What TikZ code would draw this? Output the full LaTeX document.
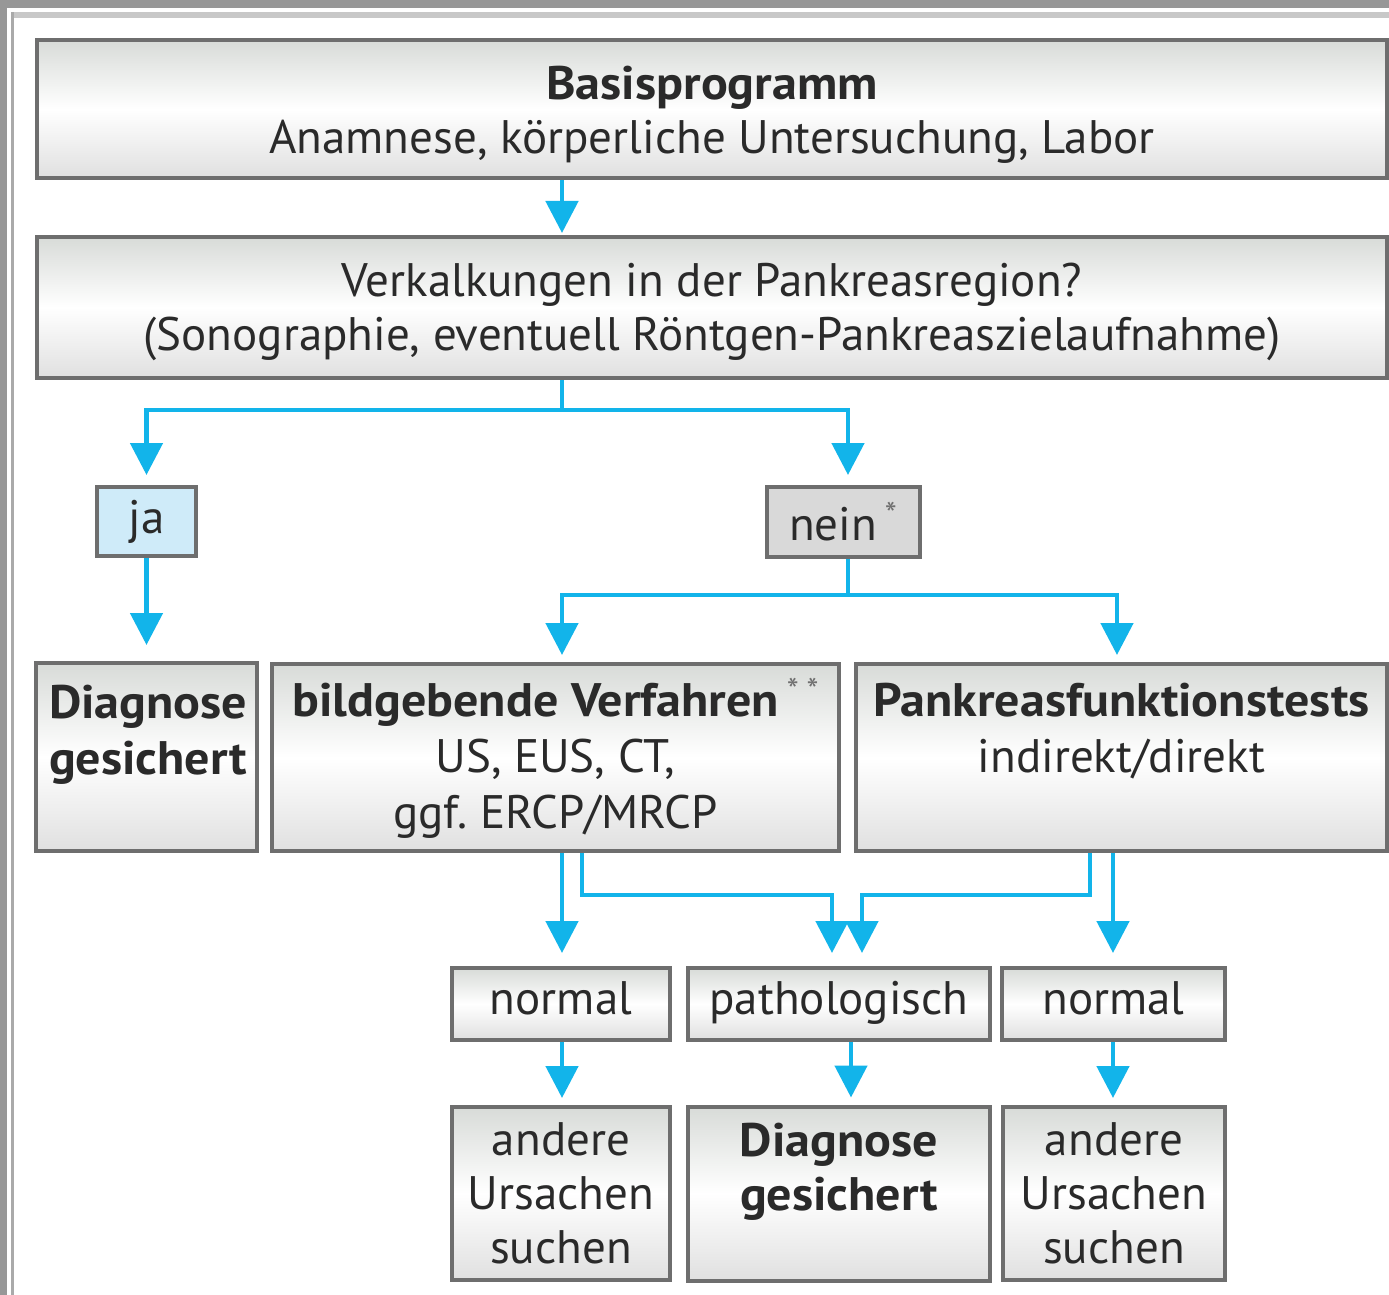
\documentclass[tikz,border=0pt]{standalone}
\usepackage{fontspec}
\setmainfont{PT Sans}[BoldFeatures={FakeStretch=1.065}]
\usetikzlibrary{arrows.meta,calc}
\definecolor{arrblue}{HTML}{12B4EA}
\definecolor{boxline}{HTML}{6E6E6E}
\definecolor{shadetop}{HTML}{D8DBD8}
\definecolor{shadebot}{HTML}{E0E0E0}
\definecolor{jafill}{HTML}{CFEBF9}
\definecolor{neinfill}{HTML}{D9D9D9}
\definecolor{txt}{HTML}{2A2A2A}
\definecolor{astcol}{HTML}{707070}
\definecolor{frameA}{HTML}{979797}
\definecolor{frameB}{HTML}{C8C8C8}
\definecolor{frameC}{HTML}{AAAAAA}
% first-line strut with extra height: moves a centred text block down by half the extra
\newcommand{\dn}[1]{\rule{0pt}{\dimexpr\ht\strutbox+#1\relax}}
\newcommand{\myast}{\raisebox{7pt}{\fontsize{17}{17}\selectfont\color{astcol}*}}
\begin{document}
\begin{tikzpicture}[x=0.5pt,y=-0.5pt,
  basebox/.style={draw=boxline, line width=2pt, inner sep=0pt, align=center, text=txt,
    font=\fontsize{23.5}{27}\selectfont},
  shadebox/.style={basebox, top color=shadetop, bottom color=shadebot, middle color=white},
  lowbox/.style={shadebox, font=\fontsize{23.5}{28}\selectfont},
  conn/.style={draw=arrblue, line width=2.4pt},
  arr/.style={conn, -{Triangle[width=16pt,length=16pt]}},
]
\useasboundingbox (0,0) rectangle (1389,1295);
\fill[white] (0,0) rectangle (1389,1295);
% frame
\fill[frameA] (0,0) rectangle (1389,8);
\fill[frameA] (0,0) rectangle (7,1295);
\fill[frameB] (11,12) rectangle (1389,18);
\fill[frameC] (11,12) rectangle (14,1295);

% column coordinates
\coordinate (xA) at (562,0);
\coordinate (xN) at (848,0);
\coordinate (xP) at (1117,0);
\coordinate (xB) at (582,0);
\coordinate (xQ) at (1090,0);
\coordinate (xL) at (832,0);
\coordinate (xR) at (862,0);
\coordinate (xD) at (851,0);
\coordinate (xM) at (1113,0);

% boxes
\node[shadebox, minimum width=675pt, minimum height=69pt] (b1) at (712,109)
  {\dn{7pt}\textbf{Basisprogramm}\\Anamnese, körperliche Untersuchung, Labor\strut};
\node[shadebox, minimum width=675pt, minimum height=70.5pt] (b2) at (712,307.5)
  {\dn{5pt}Verkalkungen in der Pankreasregion?\\(Sonographie, eventuell Röntgen-Pankreaszielaufnahme)\strut};
\node[basebox, fill=jafill, minimum width=49.5pt, minimum height=34.5pt] (ja) at (146.5,521.5) {ja};
\node[basebox, fill=neinfill, minimum width=76.5pt, minimum height=35pt] (nein) at (843,522)
  {nein\,\myast};
\node[lowbox, minimum width=110.5pt, minimum height=94pt, align=left, text width=97.5pt] (d1) at (146.5,757)
  {\dn{6pt}\textbf{Diagnose}\\\textbf{gesichert}\\\strut};
\node[lowbox, minimum width=283.5pt, minimum height=93.5pt] (bild) at (555.5,757.5)
  {\dn{4pt}\textbf{bildgebende Verfahren}\,\myast\,\myast\\US, EUS, CT,\\ggf.\ ERCP/MRCP\strut};
\node[lowbox, minimum width=265.5pt, minimum height=93.5pt] (pank) at (1121.5,757.5)
  {\dn{4pt}\textbf{Pankreasfunktionstests}\\indirekt/direkt\\\strut};
\node[shadebox, minimum width=109pt, minimum height=36pt] (n1) at (561,1004) {\strut normal};
\node[shadebox, minimum width=151pt, minimum height=36pt] (pa) at (839,1004) {\strut pathologisch};
\node[shadebox, minimum width=111.5pt, minimum height=36pt] (n2) at (1113.5,1004) {\strut normal};
\node[shadebox, minimum width=109pt, minimum height=86.5pt] (a1) at (561,1193.5)
  {\dn{5pt}andere\\Ursachen\\suchen\strut};
\node[shadebox, minimum width=151pt, minimum height=86.5pt] (d2) at (839,1193.5)
  {\dn{6pt}\textbf{Diagnose}\\\textbf{gesichert}\\\strut};
\node[shadebox, minimum width=111pt, minimum height=86.5pt] (a2) at (1114,1193.5)
  {\dn{5pt}andere\\Ursachen\\suchen\strut};

% connectors
\draw[arr, shorten >=1pt] (b1.south -| xA) -- (b2.north -| xA);
\draw[arr, shorten >=5pt] (b2.south -| xA) -- ++(0,30) -| (ja.north);
\draw[arr, shorten >=5pt] (b2.south -| xA) -- ++(0,30) -| (nein.north -| xN);
\draw[arr, shorten >=8pt] (ja.south) -- (d1.north -| ja.south);
\draw[arr, shorten >=3.5pt] (nein.south -| xN) -- ++(0,36) -| (bild.north -| xA);
\draw[arr, shorten >=3.5pt] (nein.south -| xN) -- ++(0,36) -| (pank.north -| xP);
\draw[arr, shorten >=6.5pt] (bild.south -| xA) -- (n1.north -| xA);
\draw[arr, shorten >=6.5pt] (bild.south -| xB) -- ++(0,42) -| (pa.north -| xL);
\draw[arr, shorten >=6.5pt] (pank.south -| xQ) -- ++(0,42) -| (pa.north -| xR);
\draw[arr, shorten >=6.5pt] (pank.south -| xM) -- (n2.north -| xM);
\draw[arr, shorten >=3.5pt] (n1.south -| xA) -- (a1.north -| xA);
\draw[arr, shorten >=3.5pt] (pa.south -| xD) -- (d2.north -| xD);
\draw[arr, shorten >=3.5pt] (n2.south -| xM) -- (a2.north -| xM);
\end{tikzpicture}
\end{document}
